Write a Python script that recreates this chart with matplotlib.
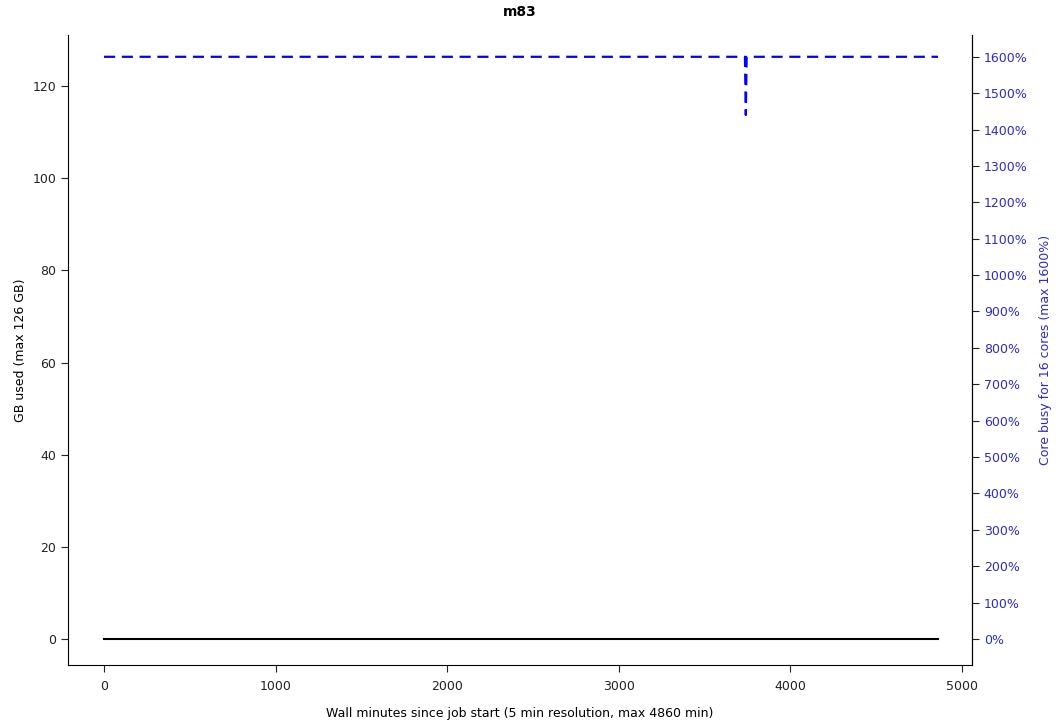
import matplotlib
matplotlib.use('Agg')
import matplotlib.pyplot as plt

# memory (GB) over wall time
mem_minutes = [0, 4860]
mem_gb = [0.0, 0.0]

# core usage (%) over wall time
cpu_minutes = [0, 3735, 3740, 3745, 4860]
cpu_pct = [1600, 1600, 1440, 1600, 1600]

x_ticks = [0, 1000, 2000, 3000, 4000, 5000]
gb_ticks = [0, 20, 40, 60, 80, 100, 120]
pct_ticks = list(range(0, 1700, 100))

blue = '#2b2bcc'

fig = plt.figure(figsize=(10.64, 7.27), dpi=100)
ax = fig.add_axes([0.0639, 0.0853, 0.8496, 0.8666])
ax2 = ax.twinx()

ax.plot(mem_minutes, mem_gb, color='black', linewidth=1.5)
ax2.plot(cpu_minutes, cpu_pct, color='blue', linestyle=(0, (5, 3)), linewidth=1.6)

ax.set_xlim(-210, 5058)
ax.set_ylim(-5.6, 131.1)
ax2.set_ylim(-71.5, 1660)

ax.set_xticks(x_ticks)
ax.set_yticks(gb_ticks)
ax2.set_yticks(pct_ticks)
ax2.set_yticklabels([f'{p}%' for p in pct_ticks])

for a in (ax, ax2):
    a.spines['top'].set_visible(False)
ax2.spines['left'].set_visible(False)
ax2.spines['bottom'].set_visible(False)

ax.tick_params(labelsize=9, direction='out', length=5, colors='#222222')
ax.tick_params(axis='x', pad=6)
ax2.tick_params(labelsize=9, direction='out', length=5, colors='#222222', labelcolor=blue)

ax.set_xlabel('Wall minutes since job start (5 min resolution, max 4860 min)', fontsize=9, labelpad=10)
ax.set_ylabel('GB used (max 126 GB)', fontsize=9)
ax2.set_ylabel('Core busy for 16 cores (max 1600%)', fontsize=9, color=blue, labelpad=8)
ax.set_title('m83', fontsize=10, fontweight='bold', pad=14)

fig.savefig('out.png', dpi=100)
